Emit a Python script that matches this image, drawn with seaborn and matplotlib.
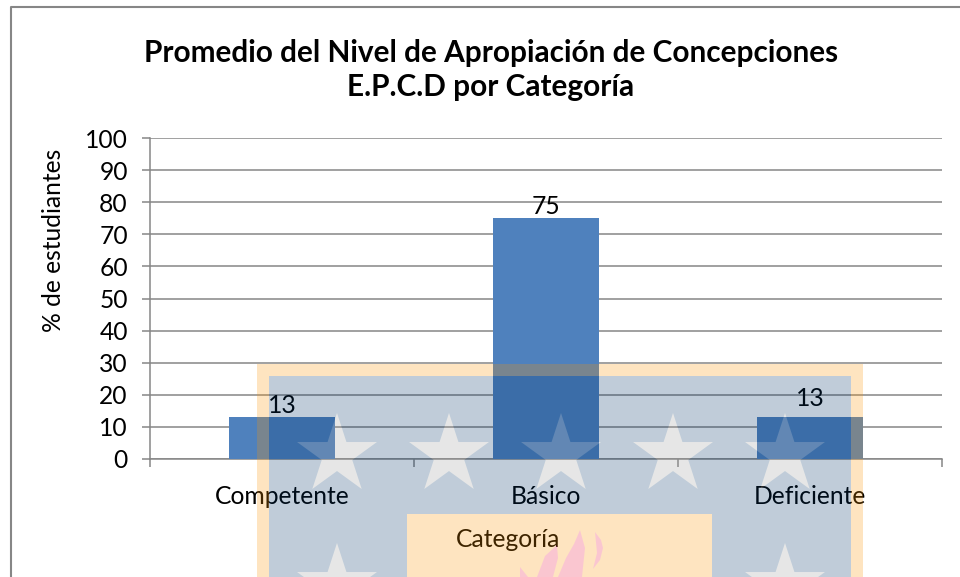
import numpy as np
import pandas as pd
import seaborn as sns
import matplotlib
matplotlib.use('Agg')
import matplotlib.pyplot as plt
from matplotlib.patches import Polygon, Rectangle
from matplotlib.lines import Line2D

categorias = ['Competente', 'Básico', 'Deficiente']
valores = [13, 75, 13]
y_ticks = [0, 10, 20, 30, 40, 50, 60, 70, 80, 90, 100]
titulo = 'Promedio del Nivel de Apropiación de Concepciones\nE.P.C.D por Categoría'

W, H = 960, 577
GRIS = '#868686'
FS = 17.7

sns.set_theme(style='white')
plt.rcParams['font.family'] = ['Lato', 'DejaVu Sans']

fig = plt.figure(figsize=(W / 100, H / 100), dpi=100, facecolor='white')
ax = fig.add_axes([150 / W, 1 - 459 / H, 792 / W, 321 / H])

data = pd.DataFrame({'categoria': categorias, 'valor': valores})
sns.barplot(data=data, x='categoria', y='valor', color='#4F81BD', saturation=1, width=0.4, ax=ax, zorder=3,
            linewidth=0, edgecolor='none')

ax.set_xlim(-0.5, 2.5)
ax.set_ylim(0, 100)
ax.set_yticks(y_ticks)
ax.yaxis.grid(True, color=GRIS, lw=1.1)
ax.set_axisbelow(True)
for s in ['top', 'right']:
    ax.spines[s].set_visible(False)
for s in ['left', 'bottom']:
    ax.spines[s].set_color(GRIS)
    ax.spines[s].set_linewidth(1.1)
ax.tick_params(axis='y', left=True, length=6, width=1.1, color=GRIS, labelsize=FS, pad=10, labelcolor='black')
ax.tick_params(axis='x', bottom=False, labelsize=FS, pad=13, labelcolor='black')
ax.set_xticks([-0.5, 0.5, 1.5, 2.5], minor=True)
ax.tick_params(axis='x', which='minor', bottom=True, length=6, width=1.1, color=GRIS)

ax.set_ylabel('% de estudiantes', fontsize=FS, color='black', y=0.68, labelpad=14)
ax.set_xlabel('Categoría', fontsize=FS, color='black', x=0.452, labelpad=14)

# las etiquetas de datos no quedan a la misma altura en el original
for i, v in enumerate(valores):
    dy = 8 if i == 2 else 3
    ax.annotate(str(v), (i, v), xytext=(0, dy), textcoords='offset points', ha='center', va='baseline',
                fontsize=FS, color='black', zorder=5)

fig.text(491 / W, 1 - 70 / H, titulo, ha='center', va='center', fontsize=21.4, fontweight='bold',
         color='black', linespacing=1.3)

# borde del grafico: solo izquierda y arriba
fig.add_artist(Line2D([11 / W, 11 / W, 1], [0, 1 - 7 / H, 1 - 7 / H], color=GRIS, lw=1.5))


# marca de agua: se pinta opaca aparte y luego se pone encima con alpha
def estrella(cx, cy, r):
    ang = np.pi / 2 + np.arange(10) * np.pi / 5
    rad = np.where(np.arange(10) % 2 == 0, r, r * 0.382)
    return np.column_stack([cx + rad * np.cos(ang), cy - rad * np.sin(ang)])


wm = plt.figure(figsize=(W / 100, H / 100), dpi=100)
wm.patch.set_alpha(0)
a = wm.add_axes([0, 0, 1, 1])
a.set_xlim(0, W)
a.set_ylim(H, 0)
a.axis('off')
a.add_patch(Rectangle((257, 364), 606, 230, color=(252 / 255, 148 / 255, 0), lw=0))
a.add_patch(Rectangle((269, 376), 582, 220, color=(0, 52 / 255, 104 / 255), lw=0))
for cx in [337, 449, 561, 673, 785]:
    a.add_patch(Polygon(estrella(cx, 455, 42), color='#9C9C9C', lw=0))
for cx in [337, 785]:
    a.add_patch(Polygon(estrella(cx, 585, 42), color='#9C9C9C', lw=0))
a.add_patch(Rectangle((407, 514), 305, 80, color=(252 / 255, 148 / 255, 0), lw=0))
llama = (236 / 255, 28 / 255, 68 / 255)
a.add_patch(Polygon([(520, 577), (520, 567), (528, 577)], color=llama, lw=0))
a.add_patch(Polygon([(537, 577), (545, 556), (557, 545), (558, 558), (553, 577)], color=llama, lw=0))
a.add_patch(Polygon([(558, 577), (566, 558), (574, 544), (580, 530), (585, 548), (582, 577)], color=llama, lw=0))
a.add_patch(Polygon([(595, 532), (601, 540), (603, 548), (600, 560), (593, 569), (597, 553)], color=llama, lw=0))
wm.canvas.draw()
capa = np.asarray(wm.canvas.buffer_rgba()).astype(float) / 255
capa[..., 3] *= 0.25
plt.close(wm)
fig.figimage(capa, 0, 0, zorder=10, resize=False)

fig.savefig('out.png', dpi=100)
